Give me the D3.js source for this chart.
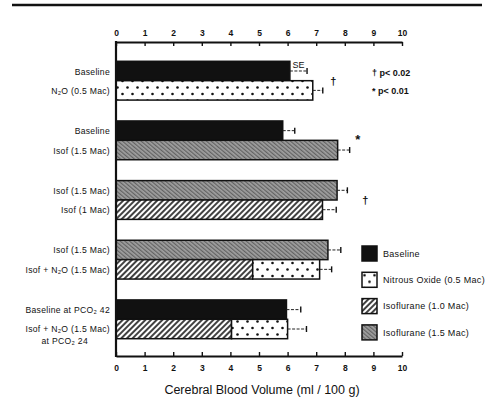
<!DOCTYPE html>
<html>
<head>
<meta charset="utf-8">
<script src="https://cdn.jsdelivr.net/npm/d3@7"></script>
<style>
  body { margin: 0; background: #fff; }
  svg { font-family: "Liberation Sans", Arial, sans-serif; }
  .axis path, .axis line { stroke: #111; }
  .axis text { font-size: 8.5px; font-weight: bold; fill: #111; }
  .rowlabel { font-size: 8.6px; letter-spacing: 0.3px; fill: #111; }
  .legend text { font-size: 9px; letter-spacing: 0.3px; fill: #111; }
  .note { fill: #111; }
</style>
</head>
<body>
<svg id="chart" width="486" height="416"></svg>
<script>
// one entry per bar, two bars per group
const barLabels = ["Baseline", "N₂O (0.5 Mac)", "Baseline", "Isof  (1.5 Mac)",
  "Isof  (1.5 Mac)", "Isof  (1 Mac)", "Isof  (1.5 Mac)", "Isof  + N₂O (1.5 Mac)",
  "Baseline at PCO₂ 42", "Isof  + N₂O (1.5 Mac)|at PCO₂ 24"];
const barGroup = [0, 0, 1, 1, 2, 2, 3, 3, 4, 4];
const barSlot = [0, 1, 0, 1, 0, 1, 0, 1, 0, 1];
const firstType = ["base", "n2o", "base", "iso15", "iso15", "iso10", "iso15", "iso10", "base", "iso10"];
const firstValue = [6.08, 6.88, 5.83, 7.75, 7.73, 7.22, 7.41, 4.78, 5.96, 4.04];
const n2oTop = [null, null, null, null, null, null, null, 7.12, null, 6.0];
const seValue = [0.6, 0.35, 0.42, 0.42, 0.36, 0.48, 0.45, 0.42, 0.5, 0.66];

const sigSymbols = ["†", "*", "†"];
const sigGroup = [0, 1, 2];
const sigX = [7.6, 8.45, 8.72];

const legendKeys = ["base", "n2o", "iso10", "iso15"];
const legendNames = ["Baseline", "Nitrous Oxide (0.5 Mac)", "Isoflurane (1.0 Mac)", "Isoflurane (1.5 Mac)"];
const noteLines = ["† p< 0.02", "* p< 0.01"];
const xTicks = d3.range(0, 11);

const svg = d3.select("#chart");

// fills
const defs = svg.append("defs");
const dots = defs.append("pattern").attr("id", "n2o")
  .attr("patternUnits", "userSpaceOnUse").attr("width", 10).attr("height", 13);
dots.append("rect").attr("width", 10).attr("height", 13).attr("fill", "#fff");
dots.append("circle").attr("cx", 2.5).attr("cy", 3).attr("r", 1.3).attr("fill", "#111");
dots.append("circle").attr("cx", 7.5).attr("cy", 9.5).attr("r", 1.3).attr("fill", "#111");

const hatch = defs.append("pattern").attr("id", "iso10")
  .attr("patternUnits", "userSpaceOnUse").attr("width", 4).attr("height", 4)
  .attr("patternTransform", "rotate(45)");
hatch.append("rect").attr("width", 4).attr("height", 4).attr("fill", "#fff");
hatch.append("line").attr("x1", 1).attr("x2", 1).attr("y1", 0).attr("y2", 4)
  .attr("stroke", "#111").attr("stroke-width", 1.6);

const grey = defs.append("pattern").attr("id", "iso15")
  .attr("patternUnits", "userSpaceOnUse").attr("width", 3).attr("height", 3)
  .attr("patternTransform", "rotate(-50)");
grey.append("rect").attr("width", 3).attr("height", 3).attr("fill", "#a0a0a0");
grey.append("line").attr("x1", 0.7).attr("x2", 0.7).attr("y1", 0).attr("y2", 3)
  .attr("stroke", "#555").attr("stroke-width", 1);

const fillFor = t => t === "base" ? "#111" : `url(#${t})`;

// scales
const x = d3.scaleLinear().domain([0, 10]).range([116, 402]);
const y = d3.scaleBand().domain(d3.range(5)).range([44, 356])
  .paddingInner(0.35).paddingOuter(0.29);
const ySlot = d3.scaleBand().domain([0, 1]).range([0, y.bandwidth()]);
const barY = i => y(barGroup[i]) + ySlot(barSlot[i]);
const barMid = i => barY(i) + ySlot.bandwidth() / 2;

// page rule
svg.append("line").attr("x1", 12).attr("x2", 482).attr("y1", 5).attr("y2", 5)
  .attr("stroke", "#111").attr("stroke-width", 2.5);

// bars
const idx = d3.range(barLabels.length);
const bars = svg.append("g").selectAll("g").data(idx).join("g");

bars.append("rect")
  .attr("x", x(0))
  .attr("y", i => barY(i))
  .attr("width", i => x(firstValue[i]) - x(0))
  .attr("height", ySlot.bandwidth())
  .attr("fill", i => fillFor(firstType[i]))
  .attr("stroke", "#111").attr("stroke-width", 1.5);

bars.filter(i => n2oTop[i] != null).append("rect")
  .attr("x", i => x(firstValue[i]))
  .attr("y", i => barY(i))
  .attr("width", i => x(n2oTop[i]) - x(firstValue[i]))
  .attr("height", ySlot.bandwidth())
  .attr("fill", "url(#n2o)")
  .attr("stroke", "#111").attr("stroke-width", 1.5);

// SE whiskers
const topOf = i => n2oTop[i] != null ? n2oTop[i] : firstValue[i];
bars.append("line")
  .attr("x1", i => x(topOf(i)))
  .attr("x2", i => x(topOf(i) + seValue[i]))
  .attr("y1", i => barMid(i)).attr("y2", i => barMid(i))
  .attr("stroke", "#222").attr("stroke-width", 1).attr("stroke-dasharray", "3,1.5");
bars.append("line")
  .attr("x1", i => x(topOf(i) + seValue[i]))
  .attr("x2", i => x(topOf(i) + seValue[i]))
  .attr("y1", i => barMid(i) - 3).attr("y2", i => barMid(i) + 3)
  .attr("stroke", "#111").attr("stroke-width", 1.4);

svg.append("text").attr("class", "note")
  .attr("x", x(topOf(0) + seValue[0] / 2)).attr("y", barMid(0) - 3)
  .attr("text-anchor", "middle").style("font-size", "9px").text("SE");

// row labels
svg.append("g").selectAll("text").data(idx).join("text")
  .attr("class", "rowlabel")
  .attr("x", 110)
  .attr("y", i => barMid(i) + (barLabels[i].includes("|") ? 0 : 0.5))
  .attr("text-anchor", "end")
  .each(function(i) {
    const parts = barLabels[i].split("|");
    const t = d3.select(this);
    parts.forEach((p, k) => {
      t.append("tspan").attr("x", k === 0 ? 110 : 88).attr("dy", k === 0 ? "0.35em" : "1.4em").text(p);
    });
  });

// significance marks
svg.append("g").selectAll("text").data(sigSymbols).join("text")
  .attr("x", (d, k) => x(sigX[k]))
  .attr("y", (d, k) => y(sigGroup[k]) + y.bandwidth() / 2 + 4)
  .attr("text-anchor", "middle").attr("fill", "#111")
  .style("font-size", d => d === "*" ? "13px" : "11px")
  .style("font-weight", "bold")
  .text(d => d);

svg.append("g").selectAll("text").data(noteLines).join("text")
  .attr("class", "note")
  .attr("x", 372).attr("y", (d, k) => 76 + k * 18)
  .style("font-size", "9px").style("font-weight", "bold")
  .text(d => d);

// axes
svg.append("g").attr("class", "axis")
  .attr("transform", "translate(0,42)")
  .call(d3.axisTop(x).tickValues(xTicks).tickSize(-4).tickSizeOuter(0).tickPadding(6))
  .call(g => g.select(".domain").attr("stroke-width", 2))
  .call(g => g.selectAll(".tick line").attr("stroke-width", 1.4));

svg.append("g").attr("class", "axis")
  .attr("transform", "translate(0,356)")
  .call(d3.axisBottom(x).tickValues(xTicks).tickSize(-4).tickSizeOuter(0).tickPadding(9))
  .call(g => g.select(".domain").attr("stroke-width", 2))
  .call(g => g.selectAll(".tick line").attr("stroke-width", 1.4));

svg.append("line").attr("x1", x(0)).attr("x2", x(0)).attr("y1", 41).attr("y2", 357)
  .attr("stroke", "#111").attr("stroke-width", 2.2);

svg.append("text")
  .attr("x", 262).attr("y", 394).attr("text-anchor", "middle")
  .style("font-size", "12.5px").attr("fill", "#111")
  .text("Cerebral Blood Volume (ml / 100 g)");

// legend
const legend = svg.append("g").attr("class", "legend").selectAll("g").data(legendKeys).join("g")
  .attr("transform", (d, k) => `translate(362,${246 + k * 26.3})`);
legend.append("rect").attr("width", 15).attr("height", 15)
  .attr("fill", d => fillFor(d)).attr("stroke", "#111").attr("stroke-width", 1.5);
legend.append("text").attr("x", 21).attr("y", 10.8)
  .text((d, k) => legendNames[k]);
</script>
</body>
</html>
